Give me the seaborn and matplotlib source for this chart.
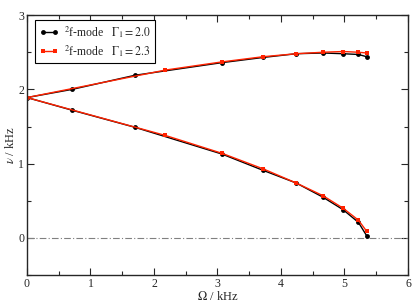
import numpy as np
import pandas as pd
import seaborn as sns
import matplotlib.pyplot as plt
from matplotlib.ticker import MultipleLocator

sns.set_style("ticks")
plt.rcParams["font.family"] = ["Liberation Serif", "DejaVu Serif"]
plt.rcParams["mathtext.fontset"] = "stix"

# Gamma_1 = 2.0 : upper branch (right -> left) then lower branch (left -> right)
omega_a = [5.35, 5.22, 4.98, 4.66, 4.24, 3.72, 3.07, 1.70, 0.71, 0.0,
           0.71, 1.70, 3.07, 3.72, 4.24, 4.66, 4.98, 5.22, 5.35]
nu_a = [2.44, 2.47, 2.48, 2.49, 2.48, 2.43, 2.36, 2.19, 2.00, 1.89,
        1.72, 1.49, 1.13, 0.91, 0.74, 0.55, 0.38, 0.21, 0.03]

# Gamma_1 = 2.3
omega_b = [5.35, 5.22, 4.98, 4.66, 4.24, 3.72, 3.07, 2.18, 0.0,
           2.18, 3.07, 3.72, 4.24, 4.66, 4.98, 5.22, 5.35]
nu_b = [2.49, 2.50, 2.51, 2.50, 2.48, 2.44, 2.37, 2.26, 1.89,
        1.38, 1.14, 0.93, 0.74, 0.57, 0.40, 0.24, 0.09]

labels = [r"$^{2}$f-mode   $\Gamma_1 = 2.0$", r"$^{2}$f-mode   $\Gamma_1 = 2.3$"]

df_a = pd.DataFrame({"omega": omega_a, "nu": nu_a})
df_b = pd.DataFrame({"omega": omega_b, "nu": nu_b})

fig = plt.figure(figsize=(4.15, 3.02), dpi=100)
ax = fig.add_axes([0.065, 0.089, 0.918, 0.861])

ax.axhline(0, color="#808080", lw=0.8, ls=(0, (6, 2, 1, 2)), zorder=1)

sns.lineplot(data=df_a, x="omega", y="nu", sort=False, estimator=None, ax=ax,
             color="black", marker="o", markersize=3.5, markeredgewidth=0,
             lw=1.0, label=labels[0])
sns.lineplot(data=df_b, x="omega", y="nu", sort=False, estimator=None, ax=ax,
             color="#ff2200", marker="s", markersize=3.5, markeredgewidth=0,
             lw=1.0, label=labels[1])

ax.set_xlim(0, 6)
ax.set_ylim(-0.5, 3)
ax.xaxis.set_major_locator(MultipleLocator(1))
ax.xaxis.set_minor_locator(MultipleLocator(0.5))
ax.yaxis.set_major_locator(MultipleLocator(1))
ax.yaxis.set_minor_locator(MultipleLocator(0.5))
ax.tick_params(which="both", direction="in", top=True, right=True, labelsize=8.5)
ax.tick_params(which="major", length=5, width=0.8, pad=2)
ax.tick_params(which="minor", length=3, width=0.8)
for s in ax.spines.values():
    s.set_linewidth(1.0)

ax.set_xlabel(r"$\Omega$ / kHz", fontsize=9, labelpad=0)
ax.set_ylabel(r"$\nu$ / kHz", fontsize=9, labelpad=1)

leg = ax.legend(loc="upper left", bbox_to_anchor=(0.015, 0.99), fontsize=8.5,
                numpoints=2, handlelength=1.6, handletextpad=0.5, frameon=True,
                fancybox=False, edgecolor="black", framealpha=1,
                borderpad=0.35, labelspacing=0.25, borderaxespad=0.2)
leg.get_frame().set_linewidth(0.8)

fig.savefig("out.png", dpi=100)
